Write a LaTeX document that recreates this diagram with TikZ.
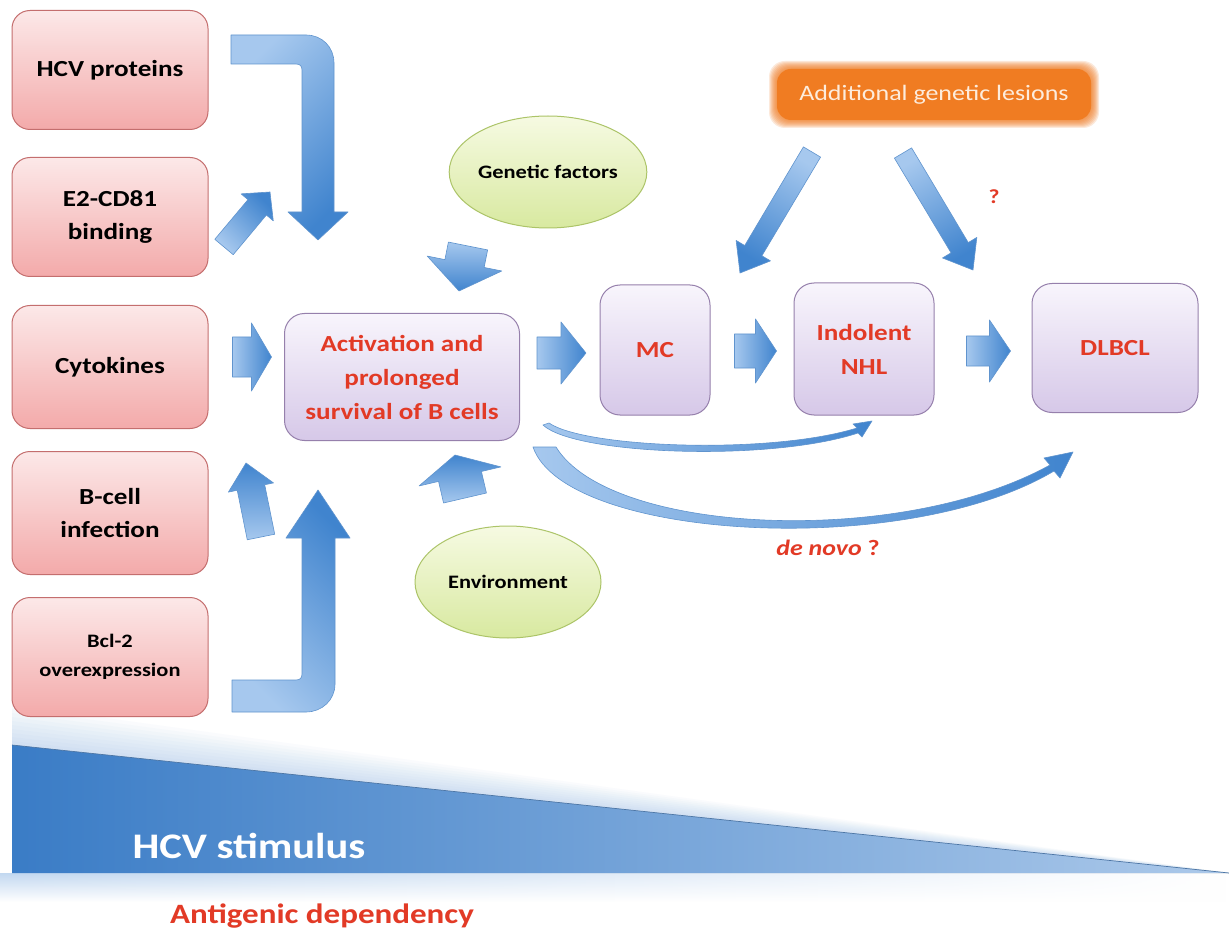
\documentclass[tikz,border=0pt]{standalone}
\usepackage{fontspec}
\setmainfont{Carlito}[FakeStretch=1.18]
\usetikzlibrary{calc,shapes.geometric,fadings}

\definecolor{pinkA}{RGB}{252,232,232}
\definecolor{pinkB}{RGB}{243,170,170}
\definecolor{pinkE}{RGB}{196,110,110}
\definecolor{lavA}{RGB}{248,245,252}
\definecolor{lavB}{RGB}{214,200,232}
\definecolor{lavE}{RGB}{150,128,172}
\definecolor{limeA}{RGB}{246,250,226}
\definecolor{limeB}{RGB}{216,233,160}
\definecolor{limeE}{RGB}{172,196,104}
\definecolor{blueL}{RGB}{166,200,238}
\definecolor{blueD}{RGB}{64,132,206}
\definecolor{blueE}{RGB}{96,148,206}
\definecolor{triD}{RGB}{58,124,198}
\definecolor{triL}{RGB}{172,201,234}
\definecolor{haze}{RGB}{120,168,222}
\definecolor{txtred}{RGB}{226,58,38}
\definecolor{orng}{RGB}{240,124,34}
\definecolor{orngtxt}{RGB}{253,236,220}

% block arrow: tail, tip, shaft half width, head half width, head length, shading angle
\newcommand{\blockarrow}[6]{%
  \path (#1) coordinate (ba-t) (#2) coordinate (ba-h);
  \path ($(ba-h)!#5!(ba-t)$) coordinate (ba-s);
  \path[barrow, shading angle=#6]
    ($(ba-t)!#3!90:(ba-h)$) -- ($(ba-s)!#3!90:(ba-h)$) -- ($(ba-s)!#4!90:(ba-h)$)
    -- (ba-h)
    -- ($(ba-s)!#4!-90:(ba-h)$) -- ($(ba-s)!#3!-90:(ba-h)$) -- ($(ba-t)!#3!-90:(ba-h)$)
    -- cycle;
}

\begin{document}
\begin{tikzpicture}[x=1pt,y=-1pt,
  inbox/.style={rectangle, rounded corners=18pt, draw=pinkE, line width=1pt,
    top color=pinkA, bottom color=pinkB, minimum width=196pt, minimum height=119pt,
    align=center, font=\bfseries\fontsize{23}{33}\selectfont},
  stage/.style={rectangle, rounded corners=20pt, draw=lavE, line width=1pt,
    top color=lavA, bottom color=lavB, align=center, text=txtred,
    font=\bfseries\fontsize{23}{34}\selectfont},
  oval/.style={ellipse, draw=limeE, line width=1pt, top color=limeA, bottom color=limeB,
    inner sep=0pt, minimum width=186pt, minimum height=112pt,
    font=\bfseries\fontsize{19}{24}\selectfont},
  barrow/.style={draw=blueE, line width=0.6pt, top color=blueL, bottom color=blueD,
    line join=round},
]
\useasboundingbox (0,0) rectangle (1229,933);
\fill[white] (0,0) rectangle (1229,933);

% soft haze around the stimulus wedge
\foreach \k in {1,...,10}{
  \fill[haze, opacity=0.035] (12,745-4*\k) -- (12,873) -- (1229,873) -- cycle;
}
\shade[top color=haze!45, bottom color=white, path fading=east] (0,873) rectangle (1229,902);
% the stimulus wedge
\shade[left color=triD, right color=triL] (12,745) -- (12,873) -- (1229,873) -- cycle;
\draw[blueE!80!black, line width=0.7pt] (12,745) -- (1229,873);
\node[text=white, font=\bfseries\fontsize{36}{40}\selectfont] (stim) at (249,846) {HCV stimulus};
\node[text=txtred, font=\bfseries\fontsize{28}{32}\selectfont] (antig) at (322,916) {Antigenic dependency};

% input boxes
\node[inbox] (hcv) at (110,70) {HCV proteins};
\node[inbox] (e2) at (110,217) {E2-CD81\\binding};
\node[inbox, minimum height=123pt] (cyt) at (110,367) {Cytokines};
\node[inbox, minimum height=123pt] (bcell) at (110,513) {B-cell\\infection};
\node[inbox, font=\bfseries\fontsize{19}{29}\selectfont] (bcl) at (110,657) {Bcl-2\\overexpression};

% disease stages
\node[stage, minimum width=235pt, minimum height=127pt] (act) at (402,377)
  {Activation and\\prolonged\\survival of B cells};
\node[stage, minimum width=110pt, minimum height=130pt] (mc) at (655,350) {MC};
\node[stage, minimum width=140pt, minimum height=132pt] (nhl) at (864,349) {Indolent\\NHL};
\node[stage, minimum width=166pt, minimum height=129pt] (dlbcl) at (1115,348) {DLBCL};

% modifiers
\node[oval] (gen) at (548,172) {Genetic factors};
\node[oval] (env) at (508,582) {Environment};

% additional lesions: glowing orange label
\foreach \k in {8,...,1}{
  \fill[orng, opacity=0.16, rounded corners=16pt] (777-\k,69-\k) rectangle (1091+\k,120+\k);
}
\fill[orng, rounded corners=14pt] (777,69) rectangle (1091,120);
\node[text=orngtxt, font=\fontsize{22}{26}\selectfont] (add) at (934,95) {Additional genetic lesions};
\node[text=txtred, font=\bfseries\fontsize{20}{24}\selectfont] (q) at (994,197) {?};

% bent arrow from HCV proteins
\path[barrow, shading angle=45]
  (231,35) -- (306,35) .. controls (322,35) and (334,47) .. (334,63)
  -- (334,212) -- (348,212) -- (318,240) -- (288,212) -- (302,212)
  -- (302,70) .. controls (302,66) and (300,64) .. (296,64) -- (231,64) -- cycle;
% bent arrow from Bcl-2 overexpression
\path[barrow, shading angle=135]
  (232,712) -- (306,712) .. controls (322,712) and (335,700) .. (335,684)
  -- (335,538) -- (350,538) -- (318,490) -- (286,538) -- (302,538)
  -- (302,674) .. controls (302,678) and (300,680) .. (296,680) -- (232,680) -- cycle;

% short input arrows
\blockarrow{224,247}{270,192}{12pt}{21pt}{20pt}{135}
\blockarrow{$(cyt.east)+(24,-10)$}{$(cyt.east)+(63,-10)$}{20pt}{34pt}{20pt}{90}
\blockarrow{261,537}{246,463}{14pt}{23pt}{25pt}{180}
\blockarrow{468,246}{459,291}{20pt}{38pt}{28pt}{0}
\blockarrow{465,498}{455,455}{22pt}{42pt}{22pt}{180}

% progression arrows
\blockarrow{$(act.east |- mc.center)+(17,3)$}{$(act.east |- mc.center)+(66,3)$}{16pt}{31pt}{25pt}{90}
\blockarrow{$(mc.east)+(24,1)$}{$(mc.east)+(66,1)$}{17pt}{32pt}{21pt}{90}
\blockarrow{$(nhl.east)+(32,2)$}{$(nhl.east)+(76,2)$}{15pt}{31pt}{21pt}{90}

% arrows from additional lesions
\blockarrow{812,152}{740,273}{10pt}{20pt}{26pt}{-30}
\blockarrow{903,153}{973,270}{10pt}{20pt}{26pt}{30}

% thin curved arrow towards indolent NHL
\path[barrow, shading angle=90]
  (543,425) .. controls (575,455) and (770,462) .. (858,433)
  -- (862,437) -- (872,421) -- (853,424) -- (857,428)
  .. controls (770,455) and (585,448) .. (549,423) -- cycle;
% wide curved arrow towards DLBCL
\path[barrow, shading angle=90]
  (533,447) .. controls (565,540) and (905,560) .. (1054,471)
  -- (1060,478) -- (1073,452) -- (1044,458) -- (1050,465)
  .. controls (900,548) and (610,535) .. (556,447) -- cycle;
\node[text=txtred, font=\bfseries\fontsize{22}{26}\selectfont] (novo) at (828,548) {\textit{de novo} ?};
\end{tikzpicture}
\end{document}
